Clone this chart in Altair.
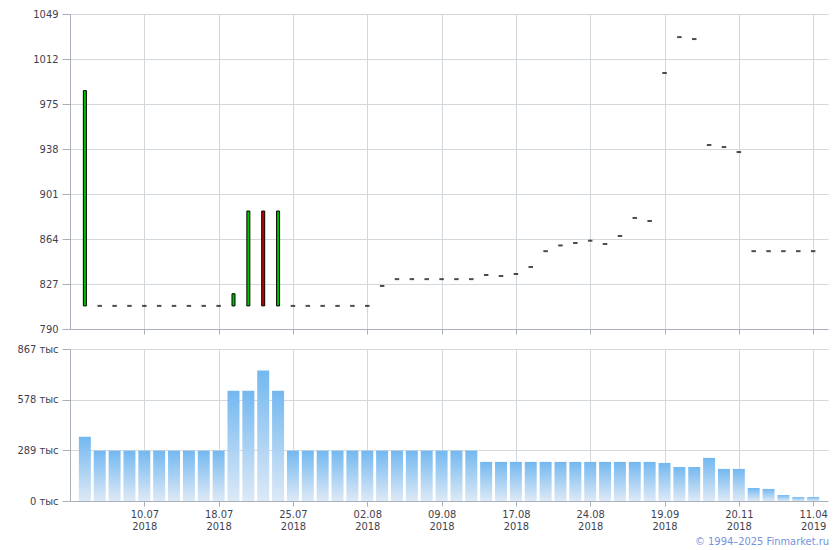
import json
import altair as alt
import pandas as pd

# ---- data ----
opens = [809, 809, 809, 809, 809, 809, 809, 809, 809, 809,
         809, 809, 887, 809, 809, 809, 809, 809, 809, 809,
         825.4, 831, 831, 831, 831, 831, 831, 834.4, 833.6, 835.2,
         841, 854, 858.7, 860.7, 862.6, 859.9, 866.5, 881.3, 878.8, 1000.5,
         1030, 1028.4, 941.3, 939.6, 935.5, 854, 854, 854, 854, 854]
closes = [986, 809, 809, 809, 809, 809, 809, 809, 809, 809,
          819, 887, 809, 887, 809, 809, 809, 809, 809, 809,
          825.4, 831, 831, 831, 831, 831, 831, 834.4, 833.6, 835.2,
          841, 854, 858.7, 860.7, 862.6, 859.9, 866.5, 881.3, 878.8, 1000.5,
          1030, 1028.4, 941.3, 939.6, 935.5, 854, 854, 854, 854, 854]
volumes_k = [366, 287, 287, 287, 287, 287, 287, 287, 287, 287,
             629, 629, 745, 629, 287, 287, 287, 287, 287, 287,
             287, 287, 287, 287, 287, 287, 287, 223, 223, 223,
             223, 223, 223, 223, 223, 223, 223, 223, 223, 217,
             194, 194, 246, 183, 183, 74, 69, 34, 23, 23]
tick_pos = [4, 9, 14, 19, 24, 29, 34, 39, 44, 49]
tick_days = ["10.07", "18.07", "25.07", "02.08", "09.08",
             "17.08", "24.08", "19.09", "20.11", "11.04"]
tick_years = ["2018", "2018", "2018", "2018", "2018",
              "2018", "2018", "2018", "2018", "2019"]
price_ticks = [790, 827, 864, 901, 938, 975, 1012, 1049]
volume_ticks = [0, 289, 578, 867]
copyright_text = "© 1994–2025 Finmarket.ru"

df = pd.DataFrame({
    "i": list(range(len(opens))),
    "open": opens,
    "close": closes,
    "vol": volumes_k,
})

W = 758
FONT = "DejaVu Sans Condensed, DejaVu Sans"
AXIS_C = "#a9afb8"
GRID_C = "#d3d8dd"
LABEL_C = "#3f3f50"

xscale = alt.Scale(domain=[-1, 50], nice=False, zero=False, padding=0)

top_x_axis = alt.Axis(values=tick_pos, labels=False, ticks=True, tickSize=5,
                      grid=True, title=None)
bottom_x_axis = alt.Axis(
    values=tick_pos, ticks=True, tickSize=5, grid=True, title=None,
    labelExpr="[" + json.dumps(tick_days) + "[indexof(" + json.dumps(tick_pos)
    + ", datum.value)], " + json.dumps(tick_years) + "[indexof("
    + json.dumps(tick_pos) + ", datum.value)]]",
    labelLineHeight=12.5, labelPadding=2, labelBaseline="top",
)

base = alt.Chart(df)

bodies = base.transform_filter("datum.open != datum.close").transform_calculate(
    lo="min(datum.open, datum.close)", hi="max(datum.open, datum.close)"
).mark_bar(size=3, stroke="black", strokeWidth=1).encode(
    x=alt.X("i:Q", scale=xscale, axis=top_x_axis),
    y=alt.Y("lo:Q", scale=alt.Scale(domain=[790, 1049], nice=False, zero=False,
                                    padding=0),
            axis=alt.Axis(values=price_ticks, title=None, tickSize=8,
                          labelPadding=4, grid=True, format="d")),
    y2="hi:Q",
    fill=alt.condition("datum.close > datum.open", alt.value("#00c000"),
                       alt.value("#c00000")),
)

dashes = base.transform_filter("datum.open == datum.close").mark_tick(
    orient="horizontal", size=4.5, thickness=2, color="black"
).encode(
    x=alt.X("i:Q", scale=xscale, axis=top_x_axis),
    y=alt.Y("close:Q"),
)

top = alt.layer(bodies, dashes).properties(width=W, height=315)

vol_bars = base.mark_bar(
    size=12,
    color=alt.Gradient(
        gradient="linear",
        stops=[alt.GradientStop(color="#dde9f6", offset=0),
               alt.GradientStop(color="#73b8f0", offset=1)],
        x1=1, x2=1, y1=1, y2=0,
    ),
).encode(
    x=alt.X("i:Q", scale=xscale, axis=bottom_x_axis),
    y=alt.Y("vol:Q", scale=alt.Scale(domain=[0, 867], nice=False, padding=0),
            axis=alt.Axis(values=volume_ticks, title=None, tickSize=8,
                          labelPadding=4, grid=True,
                          labelExpr="datum.value + ' тыс'")),
)

credit = alt.Chart(pd.DataFrame({"t": [copyright_text]})).mark_text(
    align="right", baseline="middle", font=FONT, fontSize=11, color="#7393e0"
).encode(x=alt.value(W + 1), y=alt.value(192.5), text="t:N")

bottom = alt.layer(vol_bars, credit).properties(width=W, height=152)

chart = alt.vconcat(top, bottom, spacing=20, bounds="flush").properties(
    padding={"left": 8, "top": 0, "right": 2, "bottom": 0}
).configure_view(strokeWidth=0).configure_axis(
    labelFont=FONT, labelFontSize=11, labelColor=LABEL_C,
    domainColor=AXIS_C, tickColor=AXIS_C, gridColor=GRID_C,
    domainWidth=1, tickWidth=1, gridWidth=1,
)

chart.save("out.html", embed_options={"renderer": "svg", "actions": False})
